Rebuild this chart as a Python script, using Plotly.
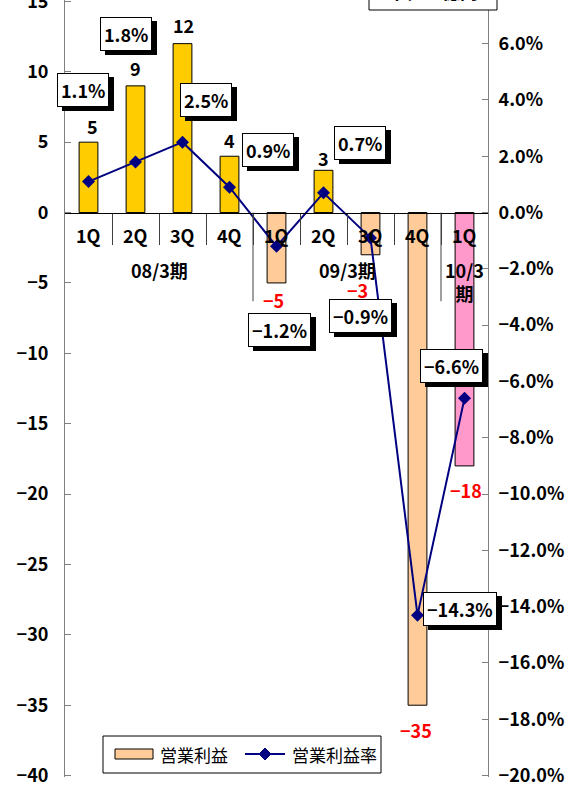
import plotly.graph_objects as go

# ---- data -------------------------------------------------------------
quarters = ["1Q", "2Q", "3Q", "4Q", "1Q", "2Q", "3Q", "4Q", "1Q"]
fiscal_years = ["08/3期", "09/3期", "10/3<br>期"]
fy_quarter_counts = [4, 4, 1]
operating_profit = [5, 9, 12, 4, -5, 3, -3, -35, -18]                  # 営業利益（億円）
operating_margin = [1.1, 1.8, 2.5, 0.9, -1.2, 0.7, -0.9, -14.3, -6.6]  # 営業利益率（%）
legend_names = ["営業利益", "営業利益率"]
unit_caption = "単位：億円"

# ---- styling / geometry -----------------------------------------------
FONT = "Noto Sans CJK JP"
W, H = 572, 785
L, R, T, B = 65, 488, 0, 777          # plot-area edges in pixels
Y_RANGE = [-40.1, 15.1]
Y2_RANGE = [Y_RANGE[0] / 2, Y_RANGE[1] / 2]   # right axis is half the left scale, in %
GOLD, PEACH, PINK, NAVY = "#FFCC00", "#FFCC99", "#FF99CC", "#000080"

def pxx(x):
    return (x - L) / (R - L)

def pxy(y):
    return (B - y) / (B - T)

xs = list(range(len(quarters)))

# fiscal-year index of each quarter
fy_of = []
for g, n in enumerate(fy_quarter_counts):
    fy_of += [g] * n
last_fy = len(fy_quarter_counts) - 1
bar_colors = [PINK if fy_of[i] == last_fy else (GOLD if v >= 0 else PEACH)
              for i, v in enumerate(operating_profit)]

def fmt_num(v):
    return f"{v}".replace("-", "\u2212")

def fmt_pct(v):
    return f"{v:.1f}%".replace("-", "\u2212")

fig = go.Figure()
fig.add_trace(go.Bar(
    x=xs, y=operating_profit, name=legend_names[0],
    marker=dict(color=bar_colors, line=dict(color="black", width=1)),
    showlegend=False, yaxis="y", hoverinfo="skip",
))
fig.add_trace(go.Scatter(
    x=xs, y=operating_margin, name=legend_names[1], mode="lines+markers",
    line=dict(color=NAVY, width=2),
    marker=dict(symbol="diamond", size=10, color=NAVY),
    showlegend=False, yaxis="y2", hoverinfo="skip",
))

ann = []
bold18 = dict(family=FONT, size=18, color="black", weight="bold")

# bar value labels: (dx, dy) pixel offsets from the bar end
bar_label_shift = [(4, 16), (0, 18), (1, 19), (0, 16), (-3, -17),
                   (0, 12), (-13, -35), (-2, -25), (1, -24)]
for i, v in enumerate(operating_profit):
    dx, dy = bar_label_shift[i]
    ann.append(dict(x=xs[i], y=v, xref="x", yref="y", text=fmt_num(v),
                    showarrow=False, xshift=dx, yshift=dy, yanchor="middle",
                    font=dict(bold18, color="black" if v >= 0 else "#FF0000")))

# margin labels in boxes with a drop shadow
pct_label_shift = [(-6, 92), (-10, 128), (23, 42), (38, 37), (3, -84),
                   (36, 50), (-10, -78), (42, 6), (-13, 32)]
for i, v in enumerate(operating_margin):
    dx, dy = pct_label_shift[i]
    common = dict(x=xs[i], y=v, xref="x", yref="y2", text=fmt_pct(v),
                  showarrow=False, yanchor="middle", borderwidth=1, borderpad=3)
    ann.append(dict(common, xshift=dx + 5, yshift=dy - 4, bgcolor="black",
                    bordercolor="black", font=dict(bold18, color="black")))
    ann.append(dict(common, xshift=dx, yshift=dy, bgcolor="white",
                    bordercolor="black", font=bold18))

# category labels along the zero line
for i, q in enumerate(quarters):
    ann.append(dict(x=xs[i], y=0, xref="x", yref="y", text=q, showarrow=False,
                    yanchor="middle", yshift=-22, font=bold18))
start = 0
for g, n in enumerate(fy_quarter_counts):
    center = start + (n - 1) / 2
    ann.append(dict(x=center, y=0, xref="x", yref="y", text=fiscal_years[g],
                    showarrow=False, yanchor="top", yshift=-42, font=bold18))
    start += n

shapes = []
# long separators between fiscal-year groups
start = 0
for n in fy_quarter_counts[:-1]:
    start += n
    shapes.append(dict(type="line", xref="x", yref="y", x0=start - 0.5, x1=start - 0.5,
                       y0=0, y1=-6.3, line=dict(color="#404040", width=1)))

# unit caption box at the top right
shapes.append(dict(type="rect", xref="paper", yref="paper",
                   x0=pxx(369), x1=pxx(497), y0=pxy(10), y1=pxy(-40),
                   fillcolor="white", line=dict(color="black", width=1)))
ann.append(dict(x=pxx(433), y=pxy(-9), xref="paper", yref="paper", text=unit_caption,
                showarrow=False, xanchor="center", yanchor="middle",
                font=dict(family=FONT, size=18, color="black", weight="bold")))

# legend box
shapes.append(dict(type="rect", xref="paper", yref="paper",
                   x0=pxx(103), x1=pxx(381), y0=pxy(773), y1=pxy(736),
                   fillcolor="white", line=dict(color="black", width=1)))
shapes.append(dict(type="rect", xref="paper", yref="paper",
                   x0=pxx(115), x1=pxx(153), y0=pxy(759), y1=pxy(749),
                   fillcolor=PEACH, line=dict(color="black", width=1)))
shapes.append(dict(type="line", xref="paper", yref="paper",
                   x0=pxx(245), x1=pxx(285), y0=pxy(754), y1=pxy(754),
                   line=dict(color=NAVY, width=2)))
cx, cy, r = 265, 754, 6
shapes.append(dict(type="path", xref="paper", yref="paper",
                   path=(f"M{pxx(cx - r)},{pxy(cy)} L{pxx(cx)},{pxy(cy - r)} "
                         f"L{pxx(cx + r)},{pxy(cy)} L{pxx(cx)},{pxy(cy + r)} Z"),
                   fillcolor=NAVY, line=dict(color=NAVY, width=1)))
leg_font = dict(family=FONT, size=17, color="black")
ann.append(dict(x=pxx(158), y=pxy(754), xref="paper", yref="paper", text=legend_names[0],
                showarrow=False, xanchor="left", yanchor="middle", font=leg_font))
ann.append(dict(x=pxx(290), y=pxy(754), xref="paper", yref="paper", text=legend_names[1],
                showarrow=False, xanchor="left", yanchor="middle", font=leg_font))

zero_pos = (0 - Y_RANGE[0]) / (Y_RANGE[1] - Y_RANGE[0])
tickfont = dict(family=FONT, size=18, color="black", weight="bold")

fig.update_layout(
    width=W, height=H,
    margin=dict(l=L, r=W - R, t=T, b=H - B, autoexpand=False),
    paper_bgcolor="white", plot_bgcolor="white",
    bargap=0.6, showlegend=False,
    xaxis=dict(range=[-0.5, len(quarters) - 0.5], anchor="free", position=zero_pos,
               showline=True, linecolor="black", linewidth=1,
               ticks="outside", tickvals=[i + 0.5 for i in xs[:-1]], ticklen=31,
               tickcolor="#404040", tickwidth=1, showticklabels=False,
               showgrid=False, zeroline=False),
    yaxis=dict(range=Y_RANGE, dtick=5, tick0=0, ticks="inside", ticklen=6,
               tickcolor="#808080", showline=True, linecolor="#808080", linewidth=1,
               showgrid=False, zeroline=False, tickfont=tickfont, ticklabelstandoff=12,
               ticklabeloverflow="allow"),
    yaxis2=dict(range=Y2_RANGE, dtick=2, tick0=0, overlaying="y", side="right", anchor="x",
                ticksuffix="%", tickformat=".1f", ticks="inside", ticklen=6,
                tickcolor="#808080", showline=True, linecolor="#808080", linewidth=1,
                showgrid=False, zeroline=False, tickfont=tickfont, ticklabelstandoff=6,
                ticklabeloverflow="allow"),
    annotations=ann, shapes=shapes,
)

fig.write_html("out.html")
